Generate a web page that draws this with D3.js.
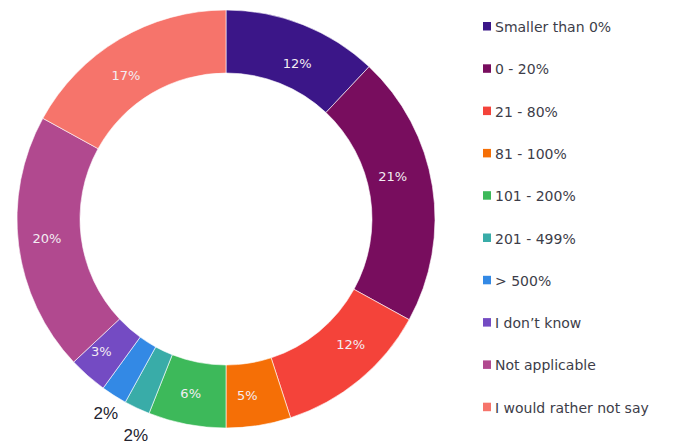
<!DOCTYPE html>
<html>
<head>
<meta charset="utf-8">
<script src="https://cdn.jsdelivr.net/npm/d3@7"></script>
<style>
  html, body { margin: 0; padding: 0; background: #fff; }
  svg { display: block; }
  text { font-family: "DejaVu Sans", sans-serif; }
</style>
</head>
<body>
<svg id="chart" width="673" height="444"></svg>
<script>
// Share of respondents per category
const categories = [
  "Smaller than 0%", "0 - 20%", "21 - 80%", "81 - 100%", "101 - 200%",
  "201 - 499%", "> 500%", "I don\u2019t know", "Not applicable", "I would rather not say"
];
const values = [12, 21, 12, 5, 6, 2, 2, 3, 20, 17];
const colors = [
  "#3b1688", "#780d5e", "#f4433a", "#f56f06", "#3db95a",
  "#39aca8", "#3389e5", "#744bc3", "#b1498f", "#f6746b"
];

// Where along each slice (0 = start, 1 = end) its label sits, and at what radius
const labelAlong = [0.57, 0.43, 0.38, 0.62, 0.53, 0.15, 0.42, 0.67, 0.515, 0.43];
const labelRadius = [171, 172, 177, 178, 178, 234, 228, 182, 180, 175];

const data = categories.map((c, i) => ({ category: c, value: values[i], i }));

const svg = d3.select("#chart");
const cx = 226, cy = 219;
const outerR = 209, innerR = 146;

const color = d3.scaleOrdinal().domain(categories).range(colors);

const pie = d3.pie().value(d => d.value).sort(null);
const arcs = pie(data);

const arc = d3.arc().innerRadius(innerR).outerRadius(outerR);

function labelPos(d) {
  const k = d.data.i;
  const a = d.startAngle + (d.endAngle - d.startAngle) * labelAlong[k];
  const r = labelRadius[k];
  return [Math.sin(a) * r, -Math.cos(a) * r];
}

const g = svg.append("g").attr("transform", `translate(${cx},${cy})`);

g.selectAll("path.slice")
  .data(arcs)
  .join("path")
  .attr("class", "slice")
  .attr("d", arc)
  .attr("fill", d => color(d.data.category))
  .attr("stroke", "#ffffff")
  .attr("stroke-width", 0.6);

// Small slices get their label outside the ring
const isSmall = d => d.data.value < 3;

g.selectAll("text.inside")
  .data(arcs.filter(d => !isSmall(d)))
  .join("text")
  .attr("class", "inside")
  .attr("transform", d => `translate(${labelPos(d)})`)
  .attr("text-anchor", "middle")
  .attr("dy", "0.36em")
  .attr("fill", "#f3edf3")
  .attr("font-size", 13)
  .text(d => d.data.value + "%");

g.selectAll("text.outside")
  .data(arcs.filter(isSmall))
  .join("text")
  .attr("class", "outside")
  .attr("transform", d => `translate(${labelPos(d)})`)
  .attr("text-anchor", "middle")
  .attr("dy", "0.36em")
  .attr("fill", "#23232f")
  .style("font-family", "'Liberation Sans', Arial, sans-serif")
  .attr("font-size", 17)
  .text(d => d.data.value + "%");

// Legend
const legendY = d3.scalePoint().domain(categories).range([27, 407.7]);
const legend = svg.append("g").attr("transform", "translate(483,0)");

const rows = legend.selectAll("g.row")
  .data(categories)
  .join("g")
  .attr("class", "row")
  .attr("transform", d => `translate(0,${legendY(d)})`);

rows.append("rect")
  .attr("x", 0).attr("y", -5)
  .attr("width", 8).attr("height", 8.5)
  .attr("fill", d => color(d));

rows.append("text")
  .attr("x", 12)
  .attr("y", 5)
  .attr("fill", "#3d3d49")
  .attr("font-size", 14)
  .text(d => d);
</script>
</body>
</html>
